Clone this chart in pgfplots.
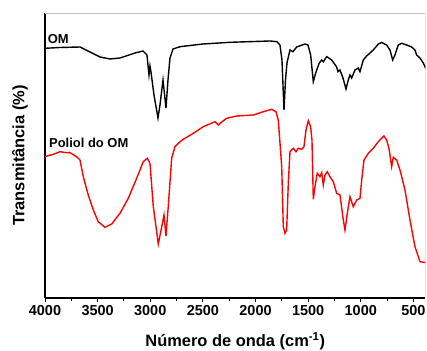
\documentclass[border=0pt]{standalone}
\usepackage{fontspec}
\setmainfont{Liberation Sans}
\usepackage{pgfplots}
\pgfplotsset{compat=1.18}

\begin{document}
\begin{tikzpicture}
\begin{axis}[
  name=ax,
  scale only axis,
  width=380.5bp, height=285bp,
  x dir=reverse,
  xmin=385, xmax=4000,
  ymin=2, ymax=287,
  axis x line*=bottom,
  axis y line*=left,
  axis line style={line width=1.3pt, black},
  xtick={500,1000,...,4000},
  minor xtick={750,1250,...,3750},
  ytick=\empty,
  tick align=outside,
  major tick length=4bp,
  minor tick length=2.5bp,
  tick style={black, line width=0.9pt},
  xticklabel style={font=\fontsize{14.5}{16}\selectfont\bfseries},
  /pgf/number format/assume math mode=true,
  /pgf/number format/1000 sep={},
  xlabel={Número de onda (cm\textsuperscript{-1})},
  ylabel={Transmitância (\%)},
  xlabel style={font=\fontsize{16.5}{18}\selectfont\bfseries, at={(axis description cs:0.5,-0.152)}, anchor=center},
  ylabel style={font=\fontsize{16.5}{18}\selectfont\bfseries, at={(axis description cs:-0.0657,0.5)}, anchor=center, rotate=0},
  clip=true,
]
\draw[gray!50, line width=0.6pt] (rel axis cs:0,1) -- (rel axis cs:1,1) -- (rel axis cs:1,0);

\addplot[black, line width=1.4pt] coordinates {
(4000,251.7) (3857.5,252.5) (3667.5,253) (3572.5,248) (3477.5,243) (3382.5,241)
(3287.5,242) (3145,247) (3069,249) (3031,245) (3012,225) (3002.5,234) (2993,228)
(2964.5,205) (2926.5,182) (2907.5,195) (2879,220) (2850.5,192) (2831.5,220)
(2812.5,242) (2784,251) (2717.5,253.3) (2499,256) (2242.5,257.7) (1862.5,259)
(1796,258.3) (1767.5,255) (1748.5,240) (1729.5,190) (1715,220) (1701,237)
(1672.5,250) (1644,248.3) (1609,253) (1530,256) (1501.5,255) (1476,245)
(1451,218.3) (1425.5,228) (1394,237) (1371,240) (1356,238.3) (1324,243.3)
(1276,240) (1229,233) (1216.5,228.3) (1197.5,230) (1169,222) (1140.5,211)
(1118.5,220) (1102.5,225) (1086.5,222) (1055,230) (1023.5,232) (1007.5,228.3)
(976,240) (944,244) (912.5,247) (881,250) (833.5,256) (801,257.5) (754,255)
(722.5,250) (697,240) (675,245) (643.5,255) (611,256.7) (564,255) (516.5,253)
(485,250) (469,245) (437.5,242) (406,237) (380,231)
};

\addplot[red, line width=1.4pt] coordinates {
(4000,143.3) (3921,145.7) (3857.5,148.3) (3810,147.5) (3762.5,147.3) (3699,143.3)
(3667.5,140) (3636,123.3) (3589,105) (3541,90) (3494,78.3) (3430,72.7) (3366.5,76)
(3287.5,86.7) (3209,101.7) (3129,121.7) (3066,138.3) (3028,141.7) (3002.5,136.7)
(2971,93.3) (2923.5,56) (2891,73.3) (2869.5,85) (2850.5,64) (2829,93.3)
(2796.5,141.7) (2765,153.3) (2733.5,156.7) (2686,160.7) (2591,166.7) (2496,173.3)
(2385,178.3) (2353.5,175) (2337.5,176.7) (2274,181.7) (2179,184) (2021,185)
(1926,188.3) (1846.5,190.7) (1805.5,188.3) (1783.5,180) (1751,133.3) (1736,73.3)
(1720,66.7) (1704,70) (1688.5,116.7) (1672.5,148.3) (1641,151.7) (1615.5,148.3)
(1593.5,151.7) (1561,150.7) (1539.5,153.3) (1520.5,170) (1498,179.3) (1476,173.3)
(1463.5,160) (1451,100.7) (1435,113.3) (1413,126.7) (1387.5,123.3) (1371,127.3)
(1356,115) (1340,125) (1318,128.3) (1292.5,123.3) (1261,118.3) (1229,106.7)
(1197.5,105) (1166,80) (1150,70) (1128,86.7) (1102.5,103.3) (1071,93.3) (1039,100)
(1007.5,101.7) (991,120) (969.5,140) (928.5,146.7) (881,151.7) (833.5,158.3)
(779.5,164) (754,160) (732,151.7) (706.5,133.3) (691,142.7) (659,140) (627.5,130)
(580,110) (532.5,80) (485,53.3) (437.5,38.3) (380,37.3)
};

\node[anchor=west, font=\fontsize{13}{15}\selectfont\bfseries, inner sep=0pt] at (axis cs:3975,261) {OM};
\node[anchor=west, font=\fontsize{13}{15}\selectfont\bfseries, inner sep=0pt] at (axis cs:3962,157) {Poliol do OM};
\end{axis}
\pgfresetboundingbox
\path[use as bounding box] ([xshift=-45bp,yshift=-53bp]ax.south west) rectangle ([xshift=1.5bp,yshift=13bp]ax.north east);
\end{tikzpicture}
\end{document}
